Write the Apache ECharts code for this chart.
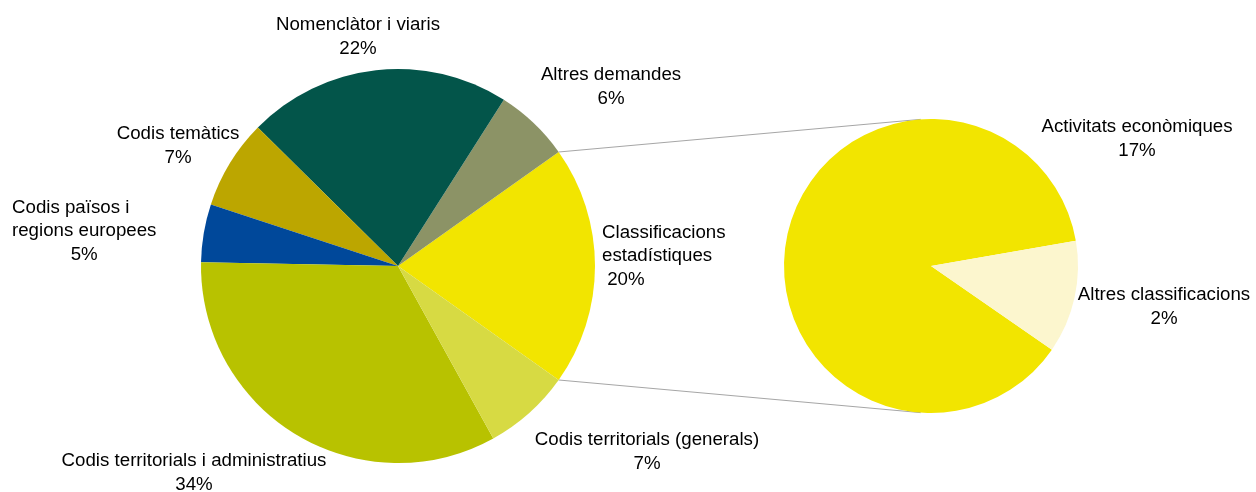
<!DOCTYPE html>
<html>
<head>
<meta charset="utf-8">
<title>Classificacions i codis</title>
<script src="https://cdn.jsdelivr.net/npm/echarts@6.0.0/dist/echarts.min.js"></script>
<style>
    html, body { margin: 0; padding: 0; background: #ffffff; }
    #pie_of_pie { width: 1256px; height: 492px; }
</style>
</head>
<body>
<div id="pie_of_pie"></div>
<script>
// Main pie, listed counter-clockwise starting with the slice that is broken out
var mainNames = [
    'Classificacions estadístiques',
    'Altres demandes',
    'Nomenclàtor i viaris',
    'Codis temàtics',
    'Codis països i regions europees',
    'Codis territorials i administratius',
    'Codis territorials (generals)'
];
var mainValues = [19.8, 6.2, 21.8, 7.4, 4.8, 33.6, 7.2];

// Breakdown of "Classificacions estadístiques" (share of the total)
var subNames = ['Activitats econòmiques', 'Altres classificacions'];
var subValues = [17.35, 2.45];

var mainColors = ['#F2E500', '#8C9366', '#03554A', '#BCA600', '#00489A', '#B8C200', '#D7DA43'];
var subColors = ['#F2E500', '#FCF6CE'];

// Where Excel put each label: [x, y, align]
var labelSpots = {
    'Classificacions estadístiques': [602, 256, 'left'],
    'Altres demandes': [611, 87, 'center'],
    'Nomenclàtor i viaris': [358, 37, 'center'],
    'Codis temàtics': [178, 146, 'center'],
    'Codis països i regions europees': [12, 231, 'left'],
    'Codis territorials i administratius': [194, 473, 'center'],
    'Codis territorials (generals)': [647, 452, 'center'],
    'Activitats econòmiques': [1137, 139, 'center'],
    'Altres classificacions': [1164, 307, 'center']
};

var FONT = '"Liberation Sans", Arial, sans-serif';

var mainCenter = [398, 266], mainRadius = 197;
var subCenter = [931, 266], subRadius = 147;

var total = mainValues.reduce(function (a, b) { return a + b; }, 0);
var half = mainValues[0] / total * 180;   // half angle of the split slice
var subTotal = subValues.reduce(function (a, b) { return a + b; }, 0);
var subSmall = subValues[1] / subTotal * 360;

function edge(c, r, deg) {
    var a = deg * Math.PI / 180;
    return [c[0] + r * Math.cos(a), c[1] - r * Math.sin(a)];
}

var p1 = edge(mainCenter, mainRadius, half);
var p2 = edge(mainCenter, mainRadius, -half);
var q1 = edge(subCenter, subRadius, 94);
var q2 = edge(subCenter, subRadius, 266);

function labelText(p) {
    var pct = Math.round(p.value) + '%';
    if (p.name === 'Codis països i regions europees') {
        return '{t|Codis països i}\n{t|regions europees}\n{c|' + pct + '}';
    }
    if (p.name === 'Classificacions estadístiques') {
        return '{t|Classificacions}\n{t|estadístiques}\n{t| ' + pct + '}';
    }
    return '{c|' + p.name + '}\n{c|' + pct + '}';
}

var textBase = { fontFamily: FONT, fontSize: 18.7, color: '#000000', lineHeight: 23.5 };
var rich = {
    t: Object.assign({ align: 'left' }, textBase),
    c: Object.assign({ align: 'center' }, textBase)
};

function buildData(names, values, colors) {
    return names.map(function (n, i) {
        return { name: n, value: values[i], itemStyle: { color: colors[i] } };
    });
}

function placeLabel(names) {
    return function (params) {
        var s = labelSpots[names[params.dataIndex]];
        return { x: s[0], y: s[1], align: s[2], verticalAlign: 'middle', hideOverlap: false };
    };
}

var chart = echarts.init(document.getElementById('pie_of_pie'));
var option = {
    animation: false,
    backgroundColor: '#ffffff',

    // Connector lines between the two pies
    graphic: [
        {
            type: 'line', z: 0,
            shape: { x1: p1[0], y1: p1[1], x2: q1[0], y2: q1[1] },
            style: { stroke: '#A6A6A6', lineWidth: 1 }
        },
        {
            type: 'line', z: 0,
            shape: { x1: p2[0], y1: p2[1], x2: q2[0], y2: q2[1] },
            style: { stroke: '#A6A6A6', lineWidth: 1 }
        }
    ],

    series: [
        {
            name: 'Demandes',
            type: 'pie',
            center: mainCenter,
            radius: [0, mainRadius],
            clockwise: false,
            startAngle: 360 - half,
            avoidLabelOverlap: false,
            minShowLabelAngle: 0,
            itemStyle: { borderWidth: 0 },
            label: { show: true, position: 'outside', formatter: labelText, rich: rich },
            labelLine: { show: false },
            labelLayout: placeLabel(mainNames),
            emphasis: { disabled: true },
            data: buildData(mainNames, mainValues, mainColors)
        },
        {
            name: 'Classificacions',
            type: 'pie',
            center: subCenter,
            radius: [0, subRadius],
            clockwise: false,
            // small slice sits just below the horizontal, centred at about -12 degrees
            startAngle: subSmall / 2 - 12.4,
            avoidLabelOverlap: false,
            minShowLabelAngle: 0,
            itemStyle: { borderWidth: 0 },
            label: { show: true, position: 'outside', formatter: labelText, rich: rich },
            labelLine: { show: false },
            labelLayout: placeLabel(subNames),
            emphasis: { disabled: true },
            data: buildData(subNames, subValues, subColors)
        }
    ]
};
chart.setOption(option);
</script>
</body>
</html>
